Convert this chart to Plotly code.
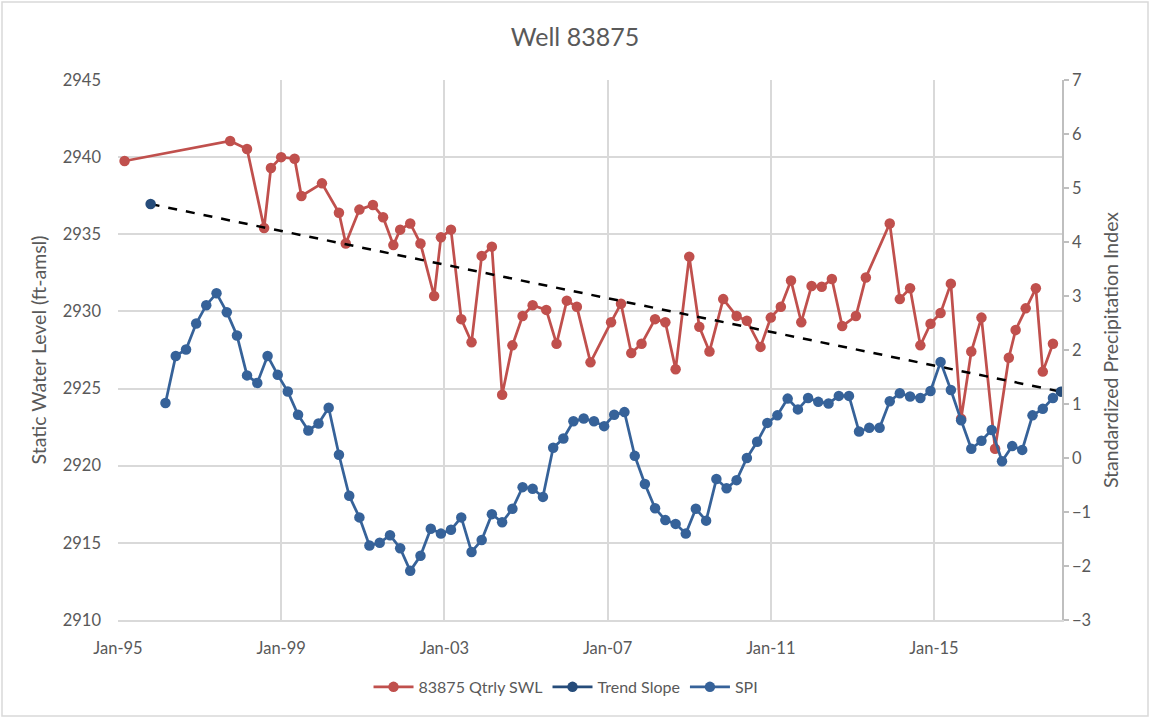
import plotly.graph_objects as go
import pandas as pd

# 83875 quarterly static water level (ft-amsl)
swl_dates = [
    "1995-03-01", "1997-10-01", "1998-03-01", "1998-08-01", "1998-10-01", "1999-01-01",
    "1999-05-01", "1999-07-01", "2000-01-01", "2000-06-01", "2000-08-01", "2000-12-01",
    "2001-04-01", "2001-07-01", "2001-10-01", "2001-12-01", "2002-03-01", "2002-06-01",
    "2002-10-01", "2002-12-01", "2003-03-01", "2003-06-01", "2003-09-01", "2003-12-01",
    "2004-03-01", "2004-06-01", "2004-09-01", "2004-12-01", "2005-03-01", "2005-07-01",
    "2005-10-01", "2006-01-01", "2006-04-01", "2006-08-01", "2007-02-01", "2007-05-01",
    "2007-08-01", "2007-11-01", "2008-03-01", "2008-06-01", "2008-09-01", "2009-01-01",
    "2009-04-01", "2009-07-01", "2009-11-01", "2010-03-01", "2010-06-01", "2010-10-01",
    "2011-01-01", "2011-04-01", "2011-07-01", "2011-10-01", "2012-01-01", "2012-04-01",
    "2012-07-01", "2012-10-01", "2013-02-01", "2013-05-01", "2013-12-01", "2014-03-01",
    "2014-06-01", "2014-09-01", "2014-12-01", "2015-03-01", "2015-06-01", "2015-09-01",
    "2015-12-01", "2016-03-01", "2016-07-01", "2016-11-01", "2017-01-01", "2017-04-01",
    "2017-07-01", "2017-09-01", "2017-12-01",
]
swl_values = [
    2939.75, 2941.05, 2940.53, 2935.41, 2939.3, 2940.0,
    2939.9, 2937.48, 2938.3, 2936.4, 2934.4, 2936.6,
    2936.9, 2936.1, 2934.3, 2935.3, 2935.7, 2934.4,
    2931.0, 2934.8, 2935.3, 2929.5, 2928.0, 2933.6,
    2934.2, 2924.6, 2927.8, 2929.7, 2930.4, 2930.1,
    2927.9, 2930.7, 2930.3, 2926.7, 2929.3, 2930.5,
    2927.3, 2927.9, 2929.5, 2929.3, 2926.25, 2933.55,
    2929.0, 2927.4, 2930.8, 2929.7, 2929.4, 2927.7,
    2929.6, 2930.3, 2932.0, 2929.3, 2931.65, 2931.6,
    2932.1, 2929.05, 2929.7, 2932.2, 2935.7, 2930.8,
    2931.5, 2927.8, 2929.2, 2929.9, 2931.8, 2923.05,
    2927.4, 2929.6, 2921.1, 2927.0, 2928.8, 2930.2,
    2931.5, 2926.1, 2927.9,
]

# Trend slope (two end points, left axis)
trend_dates = ["1995-10-20", "2018-02-10"]
trend_values = [2936.96, 2924.8]

# Standardized Precipitation Index (quarterly, right axis)
spi_start = "1996-03-01"
spi_values = [
    1.02, 1.89, 2.01, 2.49, 2.83, 3.05, 2.70, 2.27, 1.53, 1.39,
    1.89, 1.54, 1.23, 0.80, 0.51, 0.64, 0.93, 0.06, -0.70, -1.10,
    -1.62, -1.57, -1.43, -1.67, -2.09, -1.81, -1.31, -1.40, -1.33, -1.10,
    -1.74, -1.52, -1.04, -1.19, -0.94, -0.54, -0.57, -0.72, 0.19, 0.36,
    0.68, 0.73, 0.68, 0.59, 0.80, 0.85, 0.04, -0.48, -0.93, -1.15,
    -1.22, -1.40, -0.94, -1.16, -0.39, -0.56, -0.41, 0.00, 0.30, 0.65,
    0.79, 1.10, 0.90, 1.11, 1.04, 1.01, 1.15, 1.15, 0.49, 0.56,
    0.56, 1.05, 1.20, 1.14, 1.11, 1.24, 1.78, 1.26, 0.70, 0.17,
    0.32, 0.52, -0.06, 0.22, 0.15, 0.79, 0.91, 1.11,
]
spi_dates = pd.date_range(spi_start, periods=len(spi_values), freq="3MS")

RED = "#C0504D"
NAVY = "#264C7A"
BLUE = "#366299"
GRID = "#D9D9D9"
TXT = "#595959"
FONT = "Lato, Open Sans, sans-serif"
MS = 10.5

fig = go.Figure()

fig.add_trace(go.Scatter(
    x=swl_dates, y=swl_values, name="83875 Qtrly SWL", mode="lines+markers",
    line=dict(color=RED, width=2.75), marker=dict(color=RED, size=MS), yaxis="y",
))
# legend entry for Trend Slope (style as in reference legend)
fig.add_trace(go.Scatter(
    x=[None], y=[None], name="Trend Slope", mode="lines+markers",
    line=dict(color=NAVY, width=2.75), marker=dict(color=NAVY, size=MS),
    showlegend=True, yaxis="y",
))
fig.add_trace(go.Scatter(
    x=spi_dates, y=spi_values, name="SPI", mode="lines+markers",
    line=dict(color=BLUE, width=2.75), marker=dict(color=BLUE, size=MS), yaxis="y2",
))
# trend line drawn dashed black with navy end markers
fig.add_trace(go.Scatter(
    x=trend_dates, y=trend_values, mode="lines", showlegend=False,
    line=dict(color="black", width=2.5, dash="dash"), yaxis="y", hoverinfo="skip",
))
fig.add_trace(go.Scatter(
    x=trend_dates, y=trend_values, mode="markers", showlegend=False,
    marker=dict(color=NAVY, size=MS), yaxis="y",
))

fig.update_layout(
    width=1150, height=719,
    paper_bgcolor="white", plot_bgcolor="white",
    font=dict(family=FONT, color=TXT, size=16),
    title=dict(text="Well 83875", x=0.5, xanchor="center", y=0.9485, yanchor="middle",
               font=dict(size=25, color=TXT, family=FONT)),
    margin=dict(l=118, r=88, t=80, b=99),
    showlegend=True,
    legend=dict(orientation="h", x=0.4746, xanchor="center", y=-0.124, yanchor="middle",
                font=dict(size=16, color=TXT), traceorder="normal", itemwidth=40),
    xaxis=dict(
        type="date", range=["1995-01-01", "2018-02-20"],
        tick0="1995-01-01", dtick="M48", tickformat="%b-%y",
        showgrid=True, gridcolor=GRID, gridwidth=1.5,
        showline=True, linecolor=GRID, linewidth=1.5,
        ticks="", ticklabelstandoff=12, tickfont=dict(size=16.5, color=TXT), zeroline=False,
    ),
    yaxis=dict(
        range=[2910, 2945], dtick=5, tick0=2910,
        showgrid=True, gridcolor=GRID, gridwidth=1.5, zeroline=False,
        showline=False, ticks="", ticklabelstandoff=16,
        tickfont=dict(size=16.5, color=TXT),
        title=dict(text="Static Water Level (ft-amsl)", font=dict(size=19.5, color=TXT), standoff=10),
    ),
    yaxis2=dict(
        range=[-3, 7], dtick=1, tick0=-3, overlaying="y", side="right",
        showgrid=False, zeroline=False,
        showline=True, linecolor="#BFBFBF", linewidth=1.5,
        ticks="outside", ticklen=5, tickcolor="#BFBFBF", tickwidth=1.5,
        tickfont=dict(size=16.5, color=TXT),
        title=dict(text="Standardized Precipitation Index", font=dict(size=19.5, color=TXT), standoff=14),
    ),
    shapes=[dict(type="rect", xref="paper", yref="paper",
                 x0=-116/944, x1=1030/944, y0=-96/540, y1=618/540,
                 line=dict(color="#D9D9D9", width=1.5), fillcolor="rgba(0,0,0,0)", layer="below")],
)

fig.write_html("out.html", config={"displayModeBar": False},
               post_script="document.body.style.margin='0px';")
